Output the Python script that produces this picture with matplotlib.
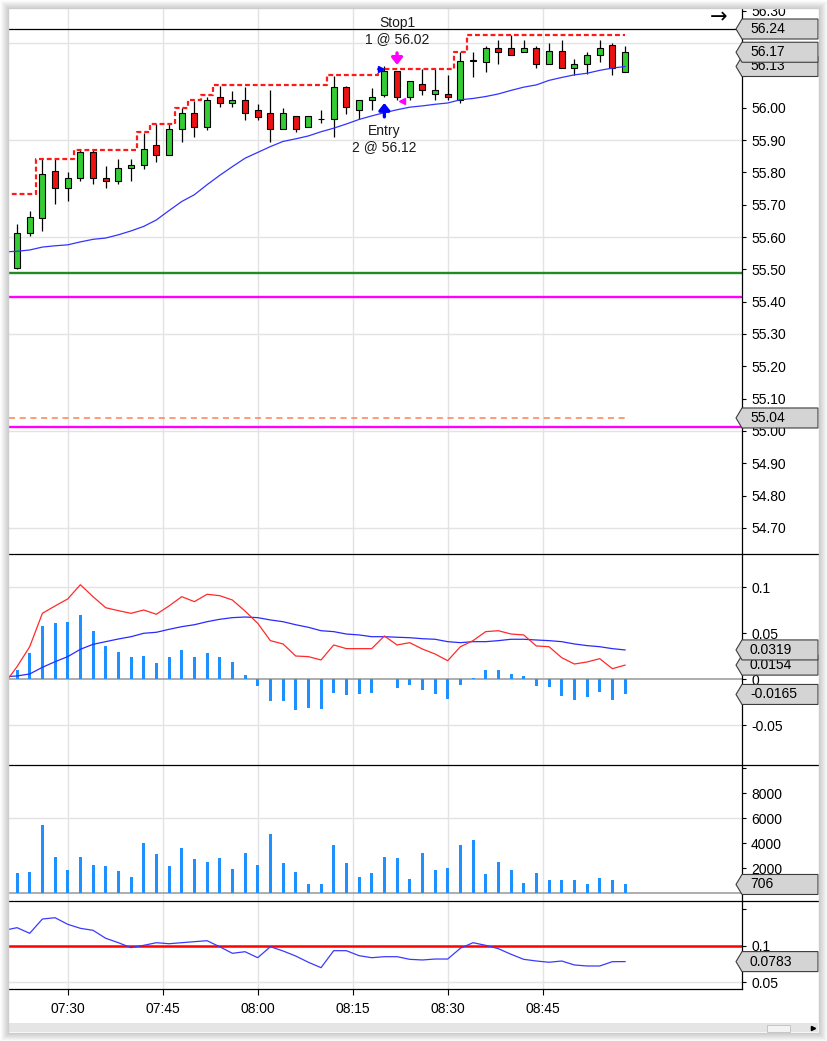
import matplotlib.pyplot as plt
import numpy as np
from matplotlib.patches import Polygon, Rectangle
from matplotlib.lines import Line2D

plt.rcParams['font.family'] = ['Liberation Sans', 'DejaVu Sans']
plt.rcParams['font.size'] = 10

# 2-minute bars, time in minutes after 07:00 (07:22 .. 08:58)
start_min = 22
bar_step = 2
n_bars = 49
times = start_min + bar_step * np.arange(n_bars)
# indicator lines begin one bar earlier (off the left edge)
line_t = np.concatenate([[start_min - bar_step], times])

opens = [55.504, 55.612, 55.660, 55.804, 55.753, 55.782, 55.863, 55.782, 55.772, 55.813,
         55.823, 55.885, 55.854, 55.934, 55.984, 55.942, 56.033, 56.015, 56.025, 55.994,
         55.984, 55.934, 55.974, 55.942, 55.964, 55.965, 56.064, 55.992, 56.023, 56.040,
         56.115, 56.032, 56.074, 56.043, 56.042, 56.025, 56.146, 56.143, 56.185, 56.185,
         56.174, 56.185, 56.135, 56.176, 56.123, 56.135, 56.162, 56.195, 56.112]
highs = [55.641, 55.682, 55.841, 55.841, 55.802, 55.868, 55.868, 55.820, 55.841, 55.841,
         55.922, 55.950, 55.950, 55.999, 56.022, 56.035, 56.068, 56.053, 56.063, 56.012,
         56.054, 56.001, 55.974, 55.974, 55.994, 56.099, 56.068, 56.025, 56.061, 56.128,
         56.115, 56.084, 56.120, 56.120, 56.102, 56.174, 56.174, 56.192, 56.211, 56.224,
         56.211, 56.192, 56.202, 56.211, 56.151, 56.174, 56.211, 56.200, 56.192]
lows = [55.500, 55.602, 55.620, 55.702, 55.713, 55.772, 55.764, 55.753, 55.764, 55.772,
        55.812, 55.831, 55.854, 55.893, 55.911, 55.932, 56.002, 56.002, 55.963, 55.963,
        55.893, 55.934, 55.924, 55.942, 55.953, 55.911, 55.981, 55.965, 55.994, 56.033,
        56.025, 56.023, 56.040, 56.025, 56.025, 56.015, 56.095, 56.112, 56.135, 56.162,
        56.174, 56.123, 56.135, 56.123, 56.102, 56.105, 56.143, 56.102, 56.112]
closes = [55.612, 55.662, 55.796, 55.753, 55.782, 55.863, 55.782, 55.772, 55.813, 55.824,
          55.872, 55.854, 55.934, 55.984, 55.942, 56.025, 56.015, 56.025, 55.984, 55.973,
          55.934, 55.984, 55.934, 55.974, 55.966, 56.064, 56.002, 56.025, 56.033, 56.115,
          56.032, 56.084, 56.056, 56.056, 56.033, 56.146, 56.146, 56.185, 56.174, 56.162,
          56.185, 56.135, 56.176, 56.123, 56.135, 56.164, 56.185, 56.123, 56.172]

moving_avg = [55.554, 55.556, 55.560, 55.569, 55.573, 55.576, 55.585, 55.593, 55.597, 55.607,
              55.619, 55.633, 55.653, 55.682, 55.710, 55.731, 55.762, 55.791, 55.818, 55.844,
              55.862, 55.880, 55.896, 55.904, 55.913, 55.926, 55.937, 55.950, 55.964, 55.975,
              55.985, 55.994, 56.002, 56.006, 56.011, 56.015, 56.025, 56.029, 56.035, 56.043,
              56.054, 56.064, 56.071, 56.085, 56.094, 56.102, 56.107, 56.116, 56.123, 56.128]
trail_stop = [55.733, 55.733, 55.733, 55.842, 55.842, 55.842, 55.870, 55.870, 55.870, 55.870,
              55.870, 55.924, 55.950, 55.950, 55.999, 56.023, 56.040, 56.071, 56.071, 56.071,
              56.071, 56.071, 56.071, 56.071, 56.071, 56.071, 56.102, 56.102, 56.102, 56.102,
              56.121, 56.121, 56.121, 56.121, 56.121, 56.121, 56.174, 56.224, 56.224, 56.224,
              56.224, 56.224, 56.224, 56.224, 56.224, 56.224, 56.224, 56.224, 56.224, 56.224]

macd_line = [-0.0050, 0.0137, 0.0354, 0.0717, 0.0797, 0.0873, 0.1028, 0.0898, 0.0778, 0.0746,
             0.0717, 0.0753, 0.0707, 0.0797, 0.0898, 0.0844, 0.0924, 0.0909, 0.0862, 0.0742,
             0.0609, 0.0420, 0.0384, 0.0253, 0.0246, 0.0210, 0.0373, 0.0333, 0.0333, 0.0333,
             0.0471, 0.0373, 0.0398, 0.0329, 0.0275, 0.0202, 0.0354, 0.0420, 0.0518, 0.0528,
             0.0492, 0.0482, 0.0362, 0.0354, 0.0235, 0.0166, 0.0188, 0.0224, 0.0115, 0.0154]
macd_signal = [0.0028, 0.0036, 0.0058, 0.0130, 0.0191, 0.0246, 0.0326, 0.0380, 0.0409, 0.0438,
               0.0463, 0.0500, 0.0511, 0.0543, 0.0572, 0.0593, 0.0626, 0.0652, 0.0670, 0.0677,
               0.0670, 0.0645, 0.0626, 0.0593, 0.0565, 0.0528, 0.0518, 0.0492, 0.0482, 0.0463,
               0.0463, 0.0457, 0.0452, 0.0441, 0.0435, 0.0409, 0.0398, 0.0409, 0.0409, 0.0420,
               0.0435, 0.0435, 0.0427, 0.0420, 0.0409, 0.0384, 0.0366, 0.0354, 0.0333, 0.0319]
macd_hist = [0.0101, 0.0283, 0.0580, 0.0616, 0.0627, 0.0699, 0.0525, 0.0362, 0.0297, 0.0243,
             0.0254, 0.0178, 0.0243, 0.0319, 0.0243, 0.0286, 0.0243, 0.0188, 0.0047, -0.0069,
             -0.0236, -0.0236, -0.0333, -0.0308, -0.0322, -0.0145, -0.0170, -0.0159, -0.0145, 0.0008,
             -0.0091, -0.0062, -0.0116, -0.0159, -0.0214, -0.0062, 0.0018, 0.0101, 0.0101, 0.0058,
             0.0036, -0.0072, -0.0080, -0.0178, -0.0225, -0.0188, -0.0134, -0.0225, -0.0165]

volume = [1630, 1710, 5470, 2910, 1870, 2910, 2270, 2190, 1790, 1310,
          4030, 3150, 2190, 3630, 2750, 2510, 2830, 1950, 3230, 2270,
          4750, 2430, 1710, 750, 750, 3870, 2430, 1310, 1630, 2910,
          2830, 1150, 3230, 1870, 2030, 3870, 4270, 1550, 2510, 1870,
          830, 1630, 1070, 1070, 1070, 750, 1230, 1070, 706]

osc = [0.1210, 0.1246, 0.1169, 0.1364, 0.1382, 0.1292, 0.1237, 0.1210, 0.1101, 0.1041,
       0.0973, 0.1005, 0.1041, 0.1027, 0.1041, 0.1055, 0.1068, 0.0986, 0.0896, 0.0918,
       0.0836, 0.0986, 0.0928, 0.0859, 0.0774, 0.0700, 0.0932, 0.0932, 0.0864, 0.0836,
       0.0850, 0.0850, 0.0814, 0.0805, 0.0818, 0.0818, 0.0965, 0.1041, 0.1005, 0.0959,
       0.0883, 0.0814, 0.0791, 0.0774, 0.0791, 0.0737, 0.0723, 0.0723, 0.0782, 0.0783]
osc_level = 0.1

top_level = 56.244
green_level = 55.49
magenta_levels = [55.415, 55.011]
dashed_level = 55.04

entry_bar, exit_bar = 29, 30
entry_price, exit_price = 56.12, 56.02
entry_qty, exit_qty = 2, 1

time_labels = ['07:30', '07:45', '08:00', '08:15', '08:30', '08:45']
tick_pos = [int(s[:2]) * 60 + int(s[3:]) - 420 for s in time_labels]

# ---------------- layout (pixels, origin top-left) ----------------
W, H = 827, 1041
fig = plt.figure(figsize=(W / 100, H / 100), dpi=100)
fig.patch.set_facecolor('white')

X0, X1, XR = 9, 742, 818
XMIN, XMAX = 20.73, 136.47
GRID = '#e3e3e3'


def F(x, y):
    return x / W, 1 - y / H


def new_panel(top, bottom, ylim):
    ax = fig.add_axes([X0 / W, 1 - bottom / H, (X1 - X0) / W, (bottom - top) / H])
    for s in ['left', 'top', 'bottom']:
        ax.spines[s].set_visible(False)
    ax.spines['right'].set_linewidth(0.9)
    ax.yaxis.tick_right()
    ax.tick_params(axis='y', direction='out', length=3, width=0.8, pad=3.5, labelsize=10)
    ax.tick_params(axis='x', length=0, labelbottom=False)
    ax.set_xlim(XMIN, XMAX)
    ax.set_ylim(*ylim)
    ax.set_xticks(tick_pos)
    ax.grid(axis='x', color=GRID, lw=1)
    ax.set_axisbelow(True)
    return ax


tags = []


def tag(ax, value, text):
    y = ax.transData.transform((XMIN, value))[1]
    tags.append((y, text, ax))


def set_right_ticks(ax, values, labels):
    # labels that would sit under a value tag are left out
    tag_y = [t[0] for t in tags if t[2] is ax]
    out = []
    for v, lab in zip(values, labels):
        y = ax.transData.transform((XMIN, v))[1]
        if tag_y and min(abs(y - ty) for ty in tag_y) < 12:
            lab = ''
        out.append(lab)
    ax.set_yticks(values, out)


# ---------------- price panel ----------------
ax1 = new_panel(8, 554, (54.619, 56.309))
pticks = np.round(np.arange(54.7, 56.31, 0.1), 2)
for v in pticks[::3]:
    ax1.axhline(v, color=GRID, lw=1, zorder=0)

ax1.axhline(top_level, color='black', lw=0.9, zorder=2)
ax1.axhline(green_level, color='#228b22', lw=1.7, zorder=2)
for m in magenta_levels:
    ax1.axhline(m, color='#ff00ff', lw=1.7, zorder=2)
ax1.hlines(dashed_level, XMIN, times[-1] + 0.6, color='#ff8050', lw=1.1,
           linestyles=(0, (4, 3)), zorder=2)

o, hi, lo, c = map(np.array, (opens, highs, lows, closes))
up = c >= o
ax1.vlines(times, lo, hi, color='black', lw=0.9, zorder=3)
ax1.bar(times, np.maximum(np.abs(c - o), 0.0015), bottom=np.minimum(o, c), width=0.95,
        color=np.where(up, '#33cc33', '#ee1111'), edgecolor='black', lw=0.8, zorder=4)

ax1.plot(line_t, moving_avg, color='#3333ff', lw=0.9, zorder=5)
ax1.plot(line_t, trail_stop, drawstyle='steps-mid', color='#ff1a1a', lw=1.6,
         dashes=(2.2, 1.3), zorder=5)

# trade markers
te, tx = times[entry_bar], times[exit_bar]
e_tip, e_tail = lows[entry_bar] - 0.018, lows[entry_bar] - 0.061
x_tip, x_tail = highs[exit_bar] + 0.018, highs[exit_bar] + 0.055
ax1.annotate('', xy=(te, e_tip), xytext=(te, e_tail),
             arrowprops=dict(arrowstyle='-|>,head_width=0.32,head_length=0.4', color='#0000ff',
                             lw=2.4, shrinkA=0, shrinkB=0), zorder=6)
ax1.annotate('', xy=(tx, x_tip), xytext=(tx, x_tail),
             arrowprops=dict(arrowstyle='-|>,head_width=0.32,head_length=0.4', color='#ff00ff',
                             lw=2.4, shrinkA=0, shrinkB=0), zorder=6)
ax1.plot(te - 0.55, entry_price, marker='>', ms=5, color='#0000ff', zorder=6)
ax1.plot(tx + 0.75, exit_price, marker='<', ms=5, color='#ff00ff', zorder=6)
ax1.annotate(f'Entry\n{entry_qty} @ {entry_price:.2f}', xy=(te, e_tail), xytext=(0, -5),
             textcoords='offset points', ha='center', va='top', fontsize=10, color='#1a1a1a')
ax1.annotate(f'Stop1\n{exit_qty} @ {exit_price:.2f}', xy=(tx, x_tail), xytext=(0, 5),
             textcoords='offset points', ha='center', va='bottom', fontsize=10, color='#1a1a1a')

tag(ax1, dashed_level, f'{dashed_level:.2f}')
tag(ax1, moving_avg[-1], f'{moving_avg[-1]:.2f}')
tag(ax1, closes[-1], f'{closes[-1]:.2f}')
tag(ax1, top_level, f'{top_level:.2f}')
set_right_ticks(ax1, pticks, [f'{v:.2f}' for v in pticks])

# ---------------- MACD panel ----------------
ax2 = new_panel(554, 765, (-0.0932, 0.1362))
for v in [0.1, -0.05]:
    ax2.axhline(v, color=GRID, lw=1, zorder=0)
ax2.axhline(0, color='#a0a0a0', lw=1.2, zorder=1)
ax2.bar(times, macd_hist, width=0.47, color='#1e90ff', zorder=2)
ax2.plot(line_t, macd_signal, color='#2a2aff', lw=0.9, zorder=3)
ax2.plot(line_t, macd_line, color='#ff2a2a', lw=0.9, zorder=3)
tag(ax2, macd_hist[-1], f'{macd_hist[-1]:.4f}')
tag(ax2, macd_line[-1], f'{macd_line[-1]:.4f}')
tag(ax2, macd_signal[-1], f'{macd_signal[-1]:.4f}')
set_right_ticks(ax2, [-0.05, 0, 0.05, 0.1], ['-0.05', '0', '0.05', '0.1'])

# ---------------- volume panel ----------------
ax3 = new_panel(765, 901, (-616, 10264))
ax3.axhline(6000, color=GRID, lw=1, zorder=0)
ax3.axhline(0, color='#a0a0a0', lw=1.2, zorder=1)
ax3.bar(times, volume, width=0.47, color='#1e90ff', zorder=2)
tag(ax3, volume[-1], f'{volume[-1]}')
set_right_ticks(ax3, [0, 2000, 4000, 6000, 8000, 10000], ['', '2000', '4000', '6000', '8000', ''])

# ---------------- oscillator panel ----------------
ax4 = new_panel(901, 989, (0.0409, 0.161))
ax4.axhline(0.05, color=GRID, lw=1, zorder=0)
ax4.axhline(osc_level, color='#ff0000', lw=1.8, zorder=2)
ax4.plot(line_t, osc, color='#3a3aff', lw=0.9, zorder=3)
tag(ax4, osc[-1], f'{osc[-1]:.4f}')
set_right_ticks(ax4, [0.05, 0.1, 0.15], ['0.05', '0.1', ''])

ax4.spines['bottom'].set_visible(True)
ax4.spines['bottom'].set_linewidth(0.9)
ax4.set_xticks(tick_pos, time_labels)
ax4.tick_params(axis='x', length=4.5, width=0.8, direction='out', pad=5,
                labelbottom=True, labelsize=10)

# panel separators running under the price tags
for yb in [554, 765, 901]:
    fig.add_artist(Line2D([X0 / W, XR / W], [1 - yb / H] * 2, color='black', lw=0.9, zorder=4))

# value tags on the right axis (lower ones first, upper ones drawn on top)
for i, (y, text, _) in enumerate(sorted(tags, key=lambda t: t[0])):
    verts = [(736, y), (742, y + 10), (XR, y + 10), (XR, y - 10), (742, y - 10)]
    fig.add_artist(Polygon([(vx / W, vy / H) for vx, vy in verts], closed=True,
                           transform=fig.transFigure, facecolor='#d4d4d4',
                           edgecolor='#3c3c3c', lw=0.8, zorder=5 + i * 0.01))
    fig.text(750 / W, y / H, text, va='center', ha='left', fontsize=10,
             zorder=5.005 + i * 0.01)

# "scroll to end" arrow
fig.text(*F(719, 17), '\u2192', ha='center', va='center', fontsize=15,
         family=['DejaVu Sans'], zorder=6)

# scrollbar strip
fig.add_artist(Rectangle(F(8, 1032), 810 / W, 9 / H, transform=fig.transFigure,
                         facecolor='#e5e5e5', edgecolor='none', zorder=25))
fig.add_artist(Rectangle(F(767, 1032), 23 / W, 7 / H, transform=fig.transFigure,
                         facecolor='#f3f3f3', edgecolor='#c4c4c4', lw=0.7, zorder=26))
fig.add_artist(Line2D([813 / W], [1 - 1028 / H], marker='>', ms=3, color='black',
                      ls='none', zorder=26))

# window shadow
wx0, wy0, wx1, wy1 = 8, 8, 818, 1032
for k in range(9):
    g = 0.80 + 0.024 * k
    fig.add_artist(Rectangle(F(wx0 - k - 0.5, wy1 + k + 0.5), (wx1 - wx0 + 2 * k + 1) / W,
                             (wy1 - wy0 + 2 * k + 1) / H, transform=fig.transFigure,
                             fill=False, edgecolor=(g, g, g), lw=1.0, zorder=30))

fig.savefig('out.png', dpi=100)
